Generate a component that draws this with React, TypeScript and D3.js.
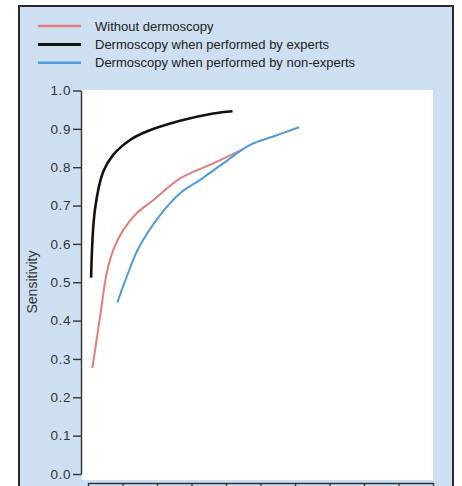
import React, { useEffect, useRef } from 'react';
import * as d3 from 'd3';

// 1 - specificity (x) vs sensitivity (y)
const withoutX = [0.0125, 0.035, 0.054, 0.073, 0.102, 0.141, 0.189, 0.267, 0.363, 0.45];
const withoutY = [0.276, 0.41, 0.523, 0.584, 0.636, 0.68, 0.714, 0.771, 0.81, 0.847];

const expertX = [0.009, 0.02, 0.044, 0.073, 0.122, 0.17, 0.267, 0.363, 0.419];
const expertY = [0.512, 0.688, 0.788, 0.832, 0.871, 0.893, 0.921, 0.94, 0.946];

const nonExpertX = [0.085, 0.112, 0.146, 0.209, 0.267, 0.325, 0.392, 0.47, 0.537, 0.612];
const nonExpertY = [0.447, 0.514, 0.588, 0.675, 0.732, 0.767, 0.81, 0.858, 0.88, 0.904];

const legendLabels = [
  'Without dermoscopy',
  'Dermoscopy when performed by experts',
  'Dermoscopy when performed by non-experts',
];
const colors = ['#e07d7d', '#111111', '#4d9cdb'];
const widths = [2, 2.6, 2];

const yTicks = [0, 0.1, 0.2, 0.3, 0.4, 0.5, 0.6, 0.7, 0.8, 0.9, 1.0];
const xTicks = [0, 0.1, 0.2, 0.3, 0.4, 0.5, 0.6, 0.7, 0.8, 0.9, 1.0];

export default function App() {
  const ref = useRef<SVGSVGElement>(null);

  useEffect(() => {
    document.body.style.margin = '0';
    const svg = d3.select(ref.current);
    svg.selectAll('*').remove();
    const font = '"Liberation Sans", Arial, sans-serif';

    // panel background and frame
    svg.append('rect').attr('x', 19).attr('y', 6).attr('width', 434).attr('height', 500)
      .attr('fill', '#cddff0').attr('stroke', '#2a2a2a').attr('stroke-width', 2);

    const x = d3.scaleLinear().domain([0, 1]).range([88, 433]);
    const y = d3.scaleLinear().domain([0, 1]).range([474, 90.5]);

    // white plot area
    svg.append('rect').attr('x', 82).attr('y', 90).attr('width', 351).attr('height', 390)
      .attr('fill', '#ffffff');

    // y axis
    const gy = svg.append('g').attr('transform', 'translate(81,0)')
      .call(d3.axisLeft(y).tickValues(yTicks).tickFormat(d3.format('.1f')).tickSize(8).tickSizeOuter(0));
    gy.select('.domain').attr('stroke', '#333').attr('stroke-width', 1.4);
    gy.selectAll('.tick line').attr('stroke', '#333').attr('stroke-width', 1.4);
    gy.selectAll('.tick text').attr('fill', '#333').attr('font-family', font)
      .attr('font-size', 13.5).attr('letter-spacing', 0.6).attr('x', -10);

    // x axis (labels fall below the visible area)
    const gx = svg.append('g').attr('transform', 'translate(0,483)')
      .call(d3.axisBottom(x).tickValues(xTicks).tickFormat(() => '').tickSize(8).tickSizeOuter(0));
    gx.select('.domain').attr('stroke', '#333').attr('stroke-width', 1.4);
    gx.selectAll('.tick line').attr('stroke', '#333').attr('stroke-width', 1.4);

    svg.append('text')
      .attr('transform', 'translate(37,282) rotate(-90)')
      .attr('text-anchor', 'middle')
      .attr('font-family', font).attr('font-size', 14).attr('fill', '#333')
      .text('Sensitivity');

    const line = d3.line<[number, number]>()
      .x(d => x(d[0])).y(d => y(d[1]))
      .curve(d3.curveCatmullRom.alpha(0.5));

    const series: [number, number][][] = [
      withoutX.map((v, i) => [v, withoutY[i]]),
      expertX.map((v, i) => [v, expertY[i]]),
      nonExpertX.map((v, i) => [v, nonExpertY[i]]),
    ];

    series.forEach((pts, i) => {
      svg.append('path').datum(pts)
        .attr('d', line).attr('fill', 'none')
        .attr('stroke', colors[i]).attr('stroke-width', widths[i])
        .attr('stroke-linejoin', 'round').attr('stroke-linecap', 'butt');
    });

    // legend
    const lg = svg.append('g');
    legendLabels.forEach((label, i) => {
      const ly = 26 + i * 18.4;
      lg.append('line').attr('x1', 38).attr('x2', 81).attr('y1', ly).attr('y2', ly)
        .attr('stroke', colors[i]).attr('stroke-width', widths[i] + 0.4);
      lg.append('text').attr('x', 95).attr('y', ly).attr('dy', '0.35em')
        .attr('font-family', font).attr('font-size', 13).attr('fill', '#222')
        .text(label);
    });
  }, []);

  return (
    <div>
      <svg ref={ref} width={462} height={486} style={{ display: 'block' }} />
    </div>
  );
}
